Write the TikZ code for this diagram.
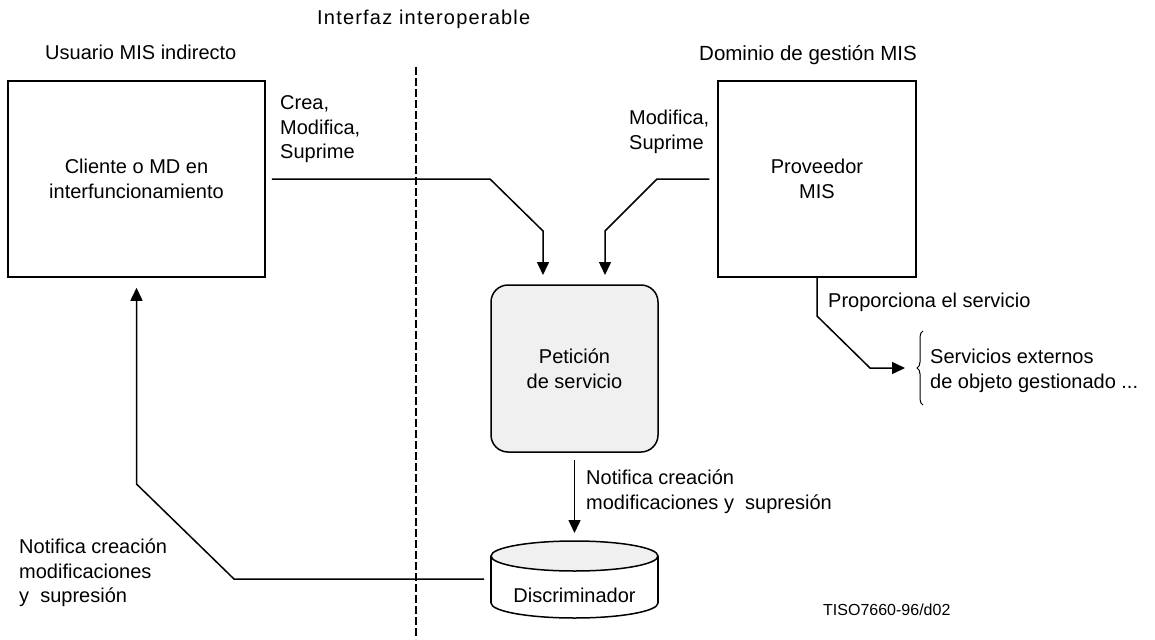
\documentclass[tikz,border=0pt]{standalone}
\usepackage{fontspec}
\setmainfont{Liberation Sans}
\newfontfamily\spacedfont[LetterSpace=6]{Liberation Sans}
\usetikzlibrary{arrows.meta,decorations.pathreplacing}
\begin{document}
\begin{tikzpicture}[x=1pt,y=-1pt,
  lbl/.style={inner sep=0pt, anchor=north west, align=left, font=\fontsize{20}{24.5}\selectfont},
  box/.style={draw, line width=1.5pt, inner sep=0pt, align=center, font=\fontsize{20}{25}\selectfont},
  conn/.style={line width=1.5pt},
  arr/.style={conn, -{Triangle[length=13pt,width=12pt]}}]
\useasboundingbox (0,0) rectangle (1155,639);
% interface line
\coordinate (itop) at (416,67);
\coordinate (ibot) at (416,639);
\draw[line width=2.4pt, dash pattern=on 8pt off 3pt] (itop) -- (ibot);
% titles
\node[lbl, font=\spacedfont\fontsize{20}{24.5}\selectfont] (tint) at (317,10) {Interfaz interoperable};
\node[lbl] (tusr) at (45,45) {Usuario MIS indirecto};
\node[lbl, font=\fontsize{20.5}{24.5}\selectfont] (tdom) at (699,45) {Dominio de gestión MIS};
% boxes
\node[box, fill=white, minimum width=257pt, minimum height=196pt] (cli) at (136.5,179) {Cliente o MD en\\interfuncionamiento};
\node[box, fill=white, minimum width=198pt, minimum height=196pt] (prov) at (817,179) {Proveedor\\MIS};
\node[box, rounded corners=17pt, fill=black!6, minimum width=167pt, minimum height=167pt] (pet) at (574.5,368.5) {Petición\\de servicio};
% cylinder
\fill[white] (574.5,603) ellipse [x radius=83.5pt, y radius=15pt];
\draw[line width=1.5pt] (574.5,603) ellipse [x radius=83.5pt, y radius=15pt];
\fill[white] (491,556) rectangle (658,603);
\draw[line width=1.5pt] (491,556) -- (491,603) (658,556) -- (658,603);
\draw[line width=1.5pt, fill=black!6] (574.5,556) ellipse [x radius=83.5pt, y radius=15pt];
\node[inner sep=0pt, font=\fontsize{20}{24.5}\selectfont] (disc) at (574.5,595) {Discriminador};
\coordinate (ctop) at (574.5,541);
\coordinate (cwest) at (491,579);
% labels
\node[lbl] (lcrea) at (280,95.5) {Crea,\\Modifica,\\Suprime};
\node[lbl] (lmod) at (629,110) {Modifica,\\Suprime};
\node[lbl] (lprop) at (828,293) {Proporciona el servicio};
\node[lbl] (lsvc) at (930,349) {Servicios externos\\de objeto gestionado ...};
\node[lbl] (lnot) at (586,470) {Notifica creación\\modificaciones y\ \ supresión};
\node[lbl] (lnot2) at (19,539) {Notifica creación\\modificaciones\\y\ \ supresión};
\node[lbl, font=\fontsize{16}{19}\selectfont] (tiso) at (823,604) {TISO7660-96/d02};
% brace
\coordinate (bt) at (917,368);
\draw[line width=1pt, decorate, decoration={brace, amplitude=6pt}] (923,405) -- (923,331);
% connectors
\draw[arr, shorten <=6pt, shorten >=10pt] (cli.east) -- (490,179) -- (543,231) -- (543,285);
\draw[arr, shorten <=8pt, shorten >=10pt] (prov.west) -- (657,179) -- (605,231) -- (605,285);
\draw[arr, shorten >=12pt] (prov.south) -- (817,316) -- (870,368) -- (bt);
\draw[arr, shorten <=7pt, shorten >=8pt] (pet.south) -- (ctop);
\draw[arr, shorten <=7pt, shorten >=10pt] (cwest) -- (234,579) -- (136.5,484) -- (cli.south);
\end{tikzpicture}
\end{document}
